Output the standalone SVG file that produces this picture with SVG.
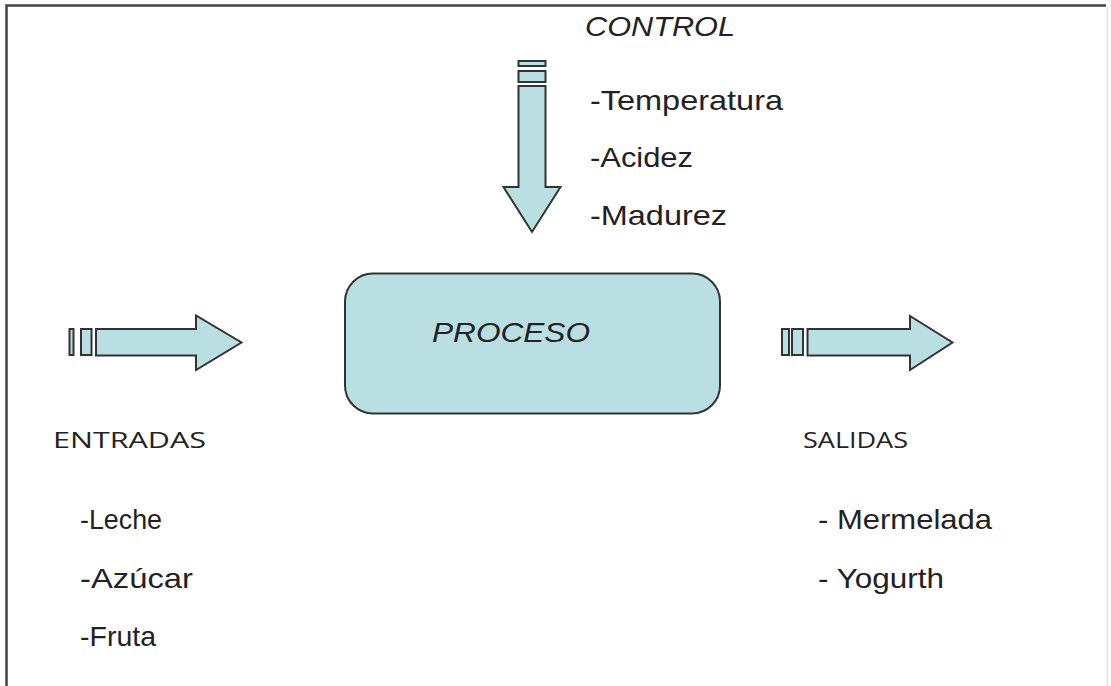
<svg xmlns="http://www.w3.org/2000/svg" width="1111" height="686" viewBox="0 0 1111 686">
<style>
.t{font-family:"Liberation Sans",Arial,sans-serif;font-size:28px;fill:#222}
.i{font-style:italic}
.c{font-family:"Open Sans","Liberation Sans",sans-serif;font-size:22px;fill:#222}
.s{fill:#b9dfe3;stroke:#333;stroke-width:2;stroke-linejoin:miter}
</style>
<rect width="1111" height="686" fill="#fff"/>
<path d="M6.5 690 V5.5 H1106" fill="none" stroke="#444" stroke-width="2.5"/>
<path d="M1107.5 6 V690" fill="none" stroke="#e4e4e4" stroke-width="1.5"/>
<g id="control">
<text class="t i" x="585" y="36" textLength="150" lengthAdjust="spacingAndGlyphs">CONTROL</text>
<rect class="s" x="518.5" y="61" width="27" height="5"/>
<rect class="s" x="518.5" y="71" width="27" height="11"/>
<path class="s" d="M518.5 86 H545.5 V187 H560.5 L532 232 L503.5 187 H518.5 Z"/>
<text class="t" x="590" y="110" textLength="193" lengthAdjust="spacingAndGlyphs">-Temperatura</text>
<text class="t" x="590" y="167" textLength="103" lengthAdjust="spacingAndGlyphs">-Acidez</text>
<text class="t" x="590" y="225" textLength="137" lengthAdjust="spacingAndGlyphs">-Madurez</text>
</g>
<g id="proceso">
<rect class="s" x="345" y="273.5" width="375" height="140" rx="28"/>
<text class="t i" x="432" y="342" textLength="158" lengthAdjust="spacingAndGlyphs">PROCESO</text>
</g>
<g id="entradas">
<rect class="s" x="69.5" y="329" width="4" height="26" fill="#555"/>
<rect class="s" x="81" y="329" width="10.5" height="26"/>
<path class="s" d="M96 329 H196 V315.5 L241.5 342.5 L196 370 V355.5 H96 Z"/>
<text class="c" x="53" y="448" textLength="153" lengthAdjust="spacingAndGlyphs">ENTRADAS</text>
<text class="t" x="80" y="529" textLength="82" lengthAdjust="spacingAndGlyphs">-Leche</text>
<text class="t" x="80" y="588" textLength="113" lengthAdjust="spacingAndGlyphs">-Azúcar</text>
<text class="t" x="80" y="646" textLength="76" lengthAdjust="spacingAndGlyphs">-Fruta</text>
</g>
<g id="salidas">
<rect class="s" x="782" y="329" width="7" height="26"/>
<rect class="s" x="792" y="329" width="11" height="26"/>
<path class="s" d="M807.5 329 H910 V316 L952.5 342.5 L910 370 V355.5 H807.5 Z"/>
<text class="c" x="803" y="448" textLength="105" lengthAdjust="spacingAndGlyphs">SALIDAS</text>
<text class="t" x="818" y="529" textLength="174" lengthAdjust="spacingAndGlyphs">- Mermelada</text>
<text class="t" x="818" y="588" textLength="126" lengthAdjust="spacingAndGlyphs">- Yogurth</text>
</g>
<g id="connectors"></g>
</svg>
